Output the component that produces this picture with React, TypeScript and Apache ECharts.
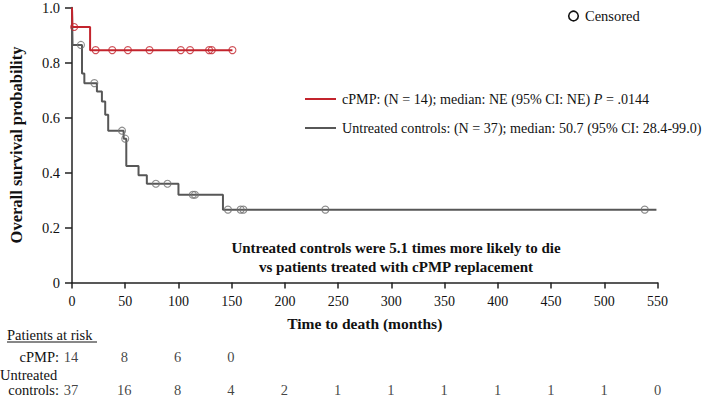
import React, { useEffect, useRef } from "react";
import * as echarts from "echarts";

// Kaplan–Meier step curves: event times (months) and survival after each step
const cpmpTimes = [0, 0.3, 17, 150.7];
const cpmpSurvival = [1, 0.929, 0.845, 0.845];
const cpmpCensored = [2, 22.2, 37.8, 52.5, 72.8, 102.2, 110.9, 128.8, 131.3, 150.7];

const controlTimes = [0, 0.5, 9.4, 11.6, 23.4, 28.1, 31.2, 34, 48.5, 51, 62.5, 70.3, 100, 141.8, 549];
const controlSurvival = [1, 0.864, 0.76, 0.725, 0.695, 0.658, 0.61, 0.552, 0.523, 0.424, 0.39, 0.359, 0.319, 0.265, 0.265];
const controlCensored = [8.4, 21, 47, 50, 78.8, 89.7, 113.5, 115.5, 146.5, 158.4, 161, 238, 538];

// Numbers at risk below the axis
const riskTimes = [0, 50, 100, 150, 200, 250, 300, 350, 400, 450, 500, 550];
const cpmpAtRisk = [14, 8, 6, 0];
const controlsAtRisk = [37, 16, 8, 4, 2, 1, 1, 1, 1, 1, 1, 0];

const RED = "#c3242d";
const GREY = "#575757";
const FONT = "Liberation Serif";

// survival value in force at time t on a step curve
function survivalAt(times: number[], surv: number[], t: number): number {
  let v = surv[0];
  for (let i = 0; i < times.length; i++) {
    if (times[i] <= t) v = surv[i];
  }
  return v;
}

function curve(times: number[], surv: number[]) {
  return times.map((t, i) => [t, surv[i]]);
}

function censorPoints(cens: number[], times: number[], surv: number[]) {
  return cens.map((t) => [t, survivalAt(times, surv, t)]);
}

export default function App() {
  const ref = useRef<HTMLDivElement>(null);

  useEffect(() => {
    if (!ref.current) return;
    const chart = echarts.init(ref.current, undefined, { renderer: "svg" });

    const baseText = { fontFamily: FONT, fontSize: 14, color: "#111" };
    const keyText = { fontFamily: FONT, fontSize: 14.5, fill: "#111" };
    const seriesKeyText = { fontFamily: FONT, fontSize: 14.1, fill: "#111" };

    chart.setOption({
      animation: false,
      backgroundColor: "#fff",
      textStyle: { fontFamily: FONT },
      grid: [
        { left: 71, right: 51.5, top: 7, bottom: 114.5 },
        { left: 71, right: 51.5, top: 357, bottom: 7.5 },
      ],
      xAxis: [
        {
          gridIndex: 0,
          type: "value",
          min: 0,
          max: 550,
          interval: 50,
          name: "Time to death (months)",
          nameLocation: "middle",
          nameGap: 33,
          nameTextStyle: { ...baseText, fontSize: 15.5, fontWeight: "bold" },
          axisLine: { lineStyle: { color: "#222", width: 1.5 } },
          axisTick: { length: 6, lineStyle: { color: "#222", width: 1.5 } },
          axisLabel: { ...baseText, margin: 12 },
          splitLine: { show: false },
        },
        {
          gridIndex: 1,
          type: "value",
          min: 0,
          max: 550,
          show: false,
        },
      ],
      yAxis: [
        {
          gridIndex: 0,
          type: "value",
          min: 0,
          max: 1,
          interval: 0.2,
          name: "Overall survival probability",
          nameLocation: "middle",
          nameGap: 47,
          nameTextStyle: { ...baseText, fontSize: 16.5, fontWeight: "bold" },
          axisLine: { show: true, lineStyle: { color: "#222", width: 1.5 } },
          axisTick: { show: true, length: 7, lineStyle: { color: "#222", width: 1.5 } },
          axisLabel: {
            ...baseText,
            fontSize: 14.5,
            margin: 12,
            formatter: (v: number) => (v === 0 ? "0" : v.toFixed(1)),
          },
          splitLine: { show: false },
        },
        {
          gridIndex: 1,
          type: "value",
          min: 0,
          max: 1,
          show: false,
        },
      ],
      series: [
        {
          type: "line",
          step: "end",
          data: curve(controlTimes, controlSurvival),
          showSymbol: false,
          lineStyle: { color: GREY, width: 2 },
          z: 2,
        },
        {
          type: "scatter",
          data: censorPoints(controlCensored, controlTimes, controlSurvival),
          symbol: "circle",
          symbolSize: 7,
          itemStyle: { color: "transparent", borderColor: "#707070", borderWidth: 1.1 },
          z: 3,
        },
        {
          type: "line",
          step: "end",
          data: curve(cpmpTimes, cpmpSurvival),
          showSymbol: false,
          lineStyle: { color: RED, width: 2 },
          z: 4,
        },
        {
          type: "scatter",
          data: censorPoints(cpmpCensored, cpmpTimes, cpmpSurvival),
          symbol: "circle",
          symbolSize: 7,
          itemStyle: { color: "transparent", borderColor: RED, borderWidth: 1.1 },
          z: 5,
        },
        {
          type: "scatter",
          xAxisIndex: 1,
          yAxisIndex: 1,
          data: cpmpAtRisk.map((n, i) => [riskTimes[i], 1, n]),
          symbolSize: 0,
          label: {
            show: true,
            position: "inside",
            ...baseText,
            fontSize: 14.5,
            formatter: (p: any) => String(p.value[2]),
          },
        },
        {
          type: "scatter",
          xAxisIndex: 1,
          yAxisIndex: 1,
          data: controlsAtRisk.map((n, i) => [riskTimes[i], 0, n]),
          symbolSize: 0,
          label: {
            show: true,
            position: "inside",
            ...baseText,
            fontSize: 14.5,
            formatter: (p: any) => String(p.value[2]),
          },
        },
      ],
      graphic: [
        // censored-mark key
        {
          type: "circle",
          shape: { cx: 573.5, cy: 16, r: 4.8 },
          style: { fill: "transparent", stroke: "#111", lineWidth: 1.6 },
        },
        {
          type: "text",
          x: 585,
          y: 16,
          style: { text: "Censored", ...keyText, verticalAlign: "middle" },
        },
        // series key
        {
          type: "line",
          shape: { x1: 305, y1: 99, x2: 336, y2: 99 },
          style: { stroke: RED, lineWidth: 2 },
        },
        {
          type: "text",
          x: 342,
          y: 99,
          style: {
            text: "cPMP: (N = 14); median: NE (95% CI: NE) {i|P} = .0144",
            ...seriesKeyText,
            verticalAlign: "middle",
            rich: { i: { fontFamily: FONT, fontSize: 14.1, fontStyle: "italic", fill: "#111" } },
          },
        },
        {
          type: "line",
          shape: { x1: 305, y1: 128, x2: 336, y2: 128 },
          style: { stroke: GREY, lineWidth: 2 },
        },
        {
          type: "text",
          x: 342,
          y: 128,
          style: {
            text: "Untreated controls: (N = 37); median: 50.7 (95% CI: 28.4-99.0)",
            ...seriesKeyText,
            verticalAlign: "middle",
          },
        },
        // hazard note
        {
          type: "text",
          x: 396,
          y: 257.5,
          style: {
            text: "Untreated controls were 5.1 times more likely to die\nvs patients treated with cPMP replacement",
            fontFamily: FONT,
            fontSize: 15,
            fontWeight: "bold",
            fill: "#111",
            align: "center",
            verticalAlign: "middle",
            lineHeight: 18.5,
          },
        },
        // at-risk table labels
        {
          type: "text",
          x: 7,
          y: 335,
          style: { text: "Patients at risk", ...keyText, verticalAlign: "middle" },
        },
        {
          type: "line",
          shape: { x1: 7, y1: 342, x2: 97, y2: 342 },
          style: { stroke: "#111", lineWidth: 1 },
        },
        {
          type: "text",
          x: 59,
          y: 357,
          style: { text: "cPMP:", ...keyText, align: "right", verticalAlign: "middle" },
        },
        {
          type: "text",
          x: 0,
          y: 375,
          style: { text: "Untreated", ...keyText, verticalAlign: "middle" },
        },
        {
          type: "text",
          x: 59,
          y: 389.5,
          style: { text: "controls:", ...keyText, align: "right", verticalAlign: "middle" },
        },
      ],
    });

    return () => chart.dispose();
  }, []);

  return (
    <div
      ref={ref}
      style={{ position: "fixed", left: 0, top: 0, width: 709, height: 397, background: "#fff" }}
    />
  );
}
